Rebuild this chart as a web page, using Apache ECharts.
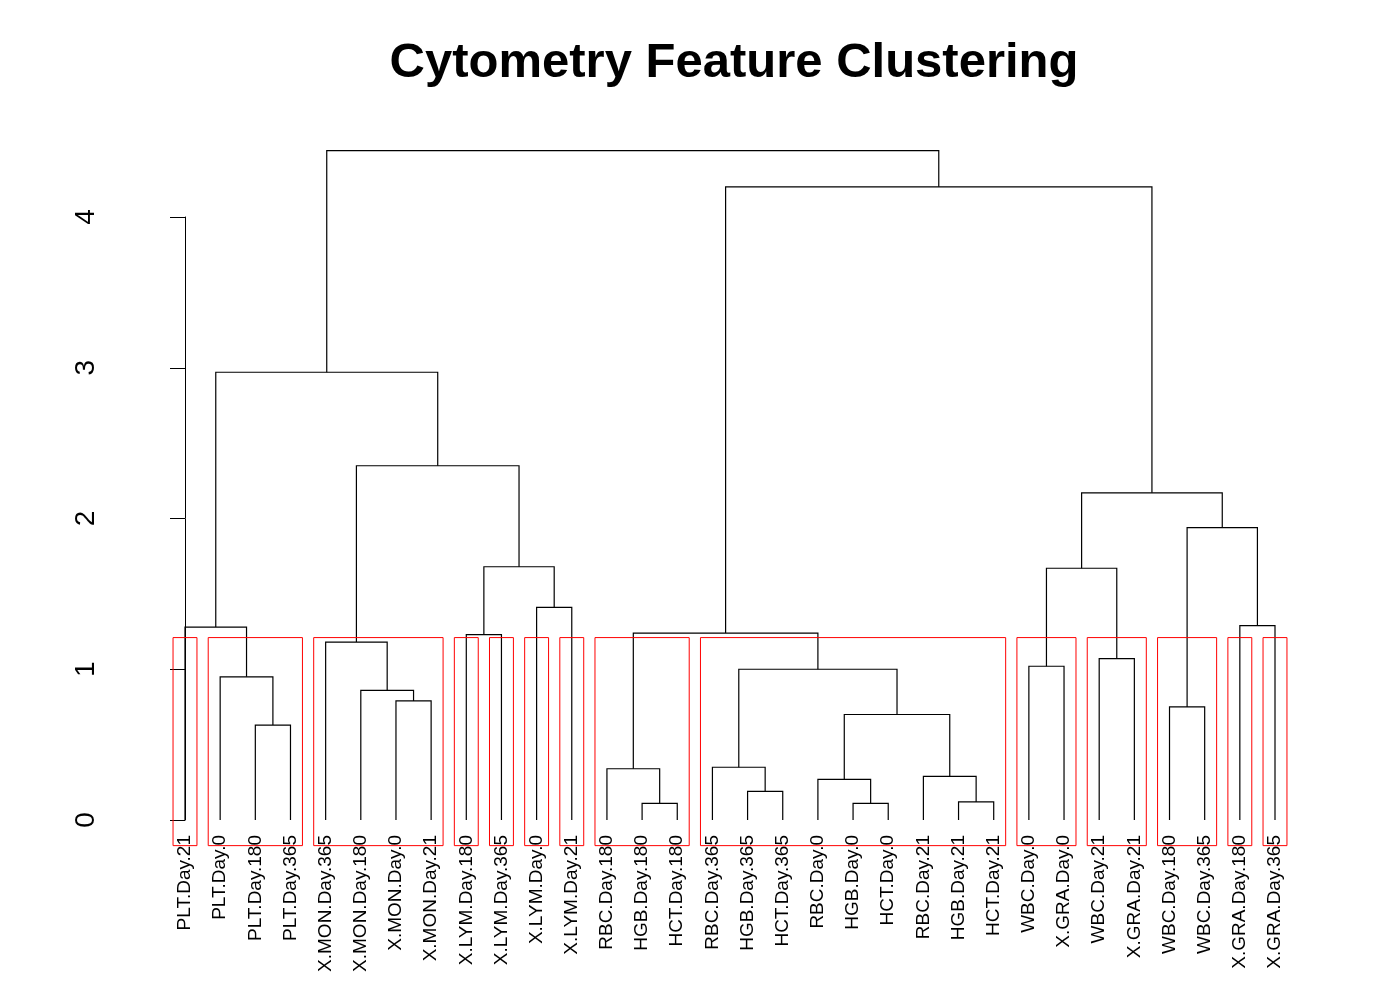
<!DOCTYPE html>
<html><head><meta charset="utf-8">
<script src="https://cdn.jsdelivr.net/npm/echarts@6/dist/echarts.min.js"></script>
<style>html,body{margin:0;background:#fff}#c{width:1400px;height:1000px}</style>
</head><body><div id="c"></div>
<script>
const leaves = ["PLT.Day.21","PLT.Day.0","PLT.Day.180","PLT.Day.365","X.MON.Day.365","X.MON.Day.180","X.MON.Day.0","X.MON.Day.21","X.LYM.Day.180","X.LYM.Day.365","X.LYM.Day.0","X.LYM.Day.21","RBC.Day.180","HGB.Day.180","HCT.Day.180","RBC.Day.365","HGB.Day.365","HCT.Day.365","RBC.Day.0","HGB.Day.0","HCT.Day.0","RBC.Day.21","HGB.Day.21","HCT.Day.21","WBC.Day.0","X.GRA.Day.0","WBC.Day.21","X.GRA.Day.21","WBC.Day.180","WBC.Day.365","X.GRA.Day.180","X.GRA.Day.365"];
// merges: [childA, childB, height]; string = leaf name, number = earlier merge index
const merges = [
 ["PLT.Day.180","PLT.Day.365",0.63],
 ["PLT.Day.0",0,0.95],
 ["PLT.Day.21",1,1.28],
 ["X.MON.Day.0","X.MON.Day.21",0.79],
 ["X.MON.Day.180",3,0.86],
 ["X.MON.Day.365",4,1.18],
 ["X.LYM.Day.180","X.LYM.Day.365",1.23],
 ["X.LYM.Day.0","X.LYM.Day.21",1.41],
 [6,7,1.68],
 [5,8,2.35],
 [2,9,2.97],
 ["HGB.Day.180","HCT.Day.180",0.11],
 ["RBC.Day.180",11,0.34],
 ["HGB.Day.365","HCT.Day.365",0.19],
 ["RBC.Day.365",13,0.35],
 ["HGB.Day.0","HCT.Day.0",0.11],
 ["RBC.Day.0",15,0.27],
 ["HGB.Day.21","HCT.Day.21",0.12],
 ["RBC.Day.21",17,0.29],
 [16,18,0.70],
 [14,19,1.00],
 [12,20,1.24],
 ["WBC.Day.0","X.GRA.Day.0",1.02],
 ["WBC.Day.21","X.GRA.Day.21",1.07],
 [22,23,1.67],
 ["WBC.Day.180","WBC.Day.365",0.75],
 ["X.GRA.Day.180","X.GRA.Day.365",1.29],
 [25,26,1.94],
 [24,27,2.17],
 [21,28,4.20],
 [10,29,4.44]
];
const clusterRanges = [[0,0],[1,3],[4,7],[8,8],[9,9],[10,10],[11,11],[12,14],[15,23],[24,25],[26,27],[28,29],[30,30],[31,31]];
const rectTop = 1.21, rectBottom = -0.17, rectPad = 0.34;

const nodes = [];
function pos(c){ return typeof c === 'string' ? {x: leaves.indexOf(c), h: 0} : nodes[c]; }
const segs = [];
merges.forEach(m => {
  const a = pos(m[0]), b = pos(m[1]), h = m[2];
  segs.push([a.x, a.h, a.x, h, b.x, h, b.x, b.h]);
  nodes.push({x: (a.x + b.x) / 2, h: h});
});
const rects = clusterRanges.map(r => [r[0]-rectPad, rectTop, r[1]+rectPad, rectBottom]);

const chart = echarts.init(document.getElementById('c'));
chart.setOption({
  animation:false,
  backgroundColor:'#fff',
  title:{text:'Cytometry Feature Clustering',left:729,top:34,textAlign:'center',
    textStyle:{fontFamily:'Liberation Sans, Arial',fontSize:49,fontWeight:'bold',color:'#000'}},
  grid:{left:185,right:125,top:217,bottom:180},
  xAxis:[
    {type:'category',data:leaves,boundaryGap:false,
    axisLine:{show:false},axisTick:{show:false},splitLine:{show:false},
    axisLabel:{rotate:90,interval:0,margin:15,fontSize:19,color:'#000',fontFamily:'Liberation Sans, Arial'}},
    {type:'value',min:0,max:leaves.length-1,show:false,position:'bottom'}
  ],
  yAxis:{type:'value',min:0,max:4,interval:1,offset:63,
    axisLine:{show:true,lineStyle:{color:'#000',width:1}},
    axisTick:{show:true,length:15,lineStyle:{color:'#000'}},
    splitLine:{show:false},
    axisLabel:{rotate:90,margin:22,fontSize:28,color:'#000',fontFamily:'Liberation Sans, Arial'}},
  series:[
    {type:'custom',xAxisIndex:1,clip:false,data:segs,renderItem:(p,api)=>{
      const pts=[0,2,4,6].map(i=>api.coord([api.value(i),api.value(i+1)]));
      return {type:'polyline',shape:{points:pts},style:{stroke:'#000',lineWidth:1.2,fill:null}};
    }},
    {type:'custom',xAxisIndex:1,clip:false,data:rects,renderItem:(p,api)=>{
      const a=api.coord([api.value(0),api.value(1)]),b=api.coord([api.value(2),api.value(3)]);
      return {type:'rect',shape:{x:a[0],y:a[1],width:b[0]-a[0],height:b[1]-a[1]},style:{stroke:'#ff0000',lineWidth:1,fill:null}};
    }}
  ]
});
</script></body></html>
